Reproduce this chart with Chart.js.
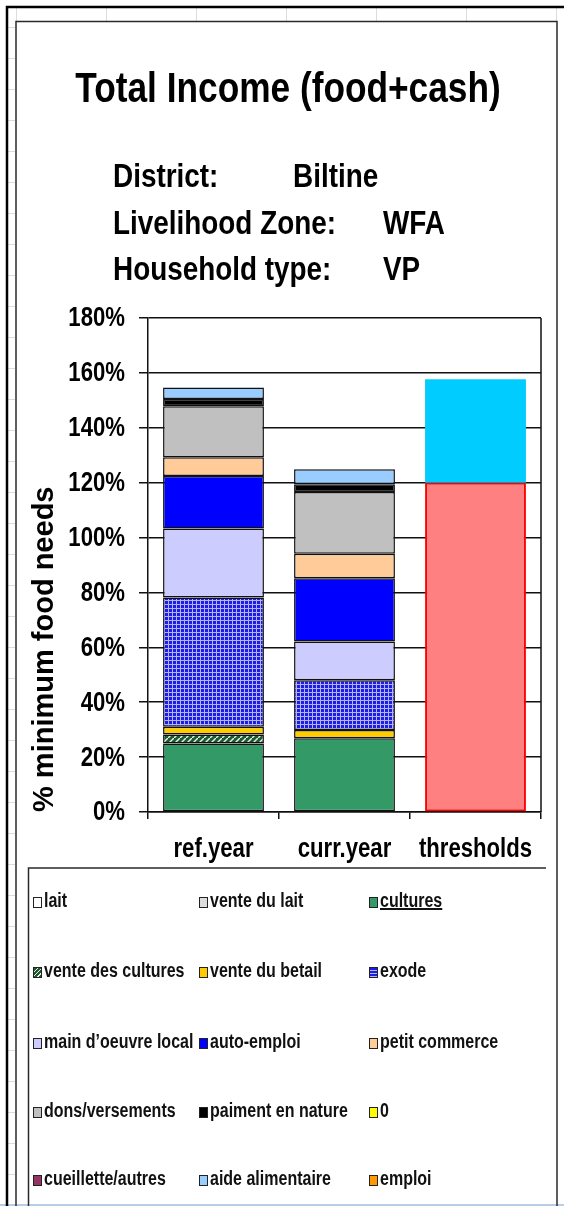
<!DOCTYPE html>
<html>
<head>
<meta charset="utf-8">
<title>Total Income (food+cash)</title>
<script src="https://cdn.jsdelivr.net/npm/chart.js@4.4.0/dist/chart.umd.min.js"></script>
<style>
  body { margin: 0; background: #fff; }
  #wrap { position: relative; width: 564px; height: 1206px; overflow: hidden; }
  #chartBox { position: absolute; left: 0; top: 0; width: 564px; height: 1206px; }
  #legend { position: absolute; left: 0; top: 0; width: 564px; height: 1206px; pointer-events: none; }
  .item {
    position: absolute; white-space: nowrap; color: #111;
    font: bold 20px "Liberation Sans", Arial, sans-serif;
    line-height: 20px; height: 20px;
  }
  .mark {
    display: inline-block; width: 7px; height: 9px; border: 1px solid #222;
    vertical-align: -1px; margin-right: 2px;
  }
  .txt { display: inline-block; transform: scaleX(0.8); transform-origin: 0 50%; }
</style>
</head>
<body>
<div id="wrap">
  <div id="chartBox"><canvas id="incomeChart"></canvas></div>
  <div id="legend"></div>
</div>
<script>
const SANS = '"Liberation Sans", Arial, sans-serif';
const SQUEEZE = 0.82; // Arial Narrow look from Liberation Sans

// chart data
const categories = ["ref.year", "curr.year", "thresholds"];
const sources = [
  "lait", "vente du lait", "cultures",
  "vente des cultures", "vente du betail", "exode",
  "main d\u2019oeuvre local", "auto-emploi", "petit commerce",
  "dons/versements", "paiment en nature", "0",
  "cueillette/autres", "aide alimentaire", "emploi"
];
const refYear  = [0, 0, 25.0, 3.2, 2.9, 47.1, 25.1, 19.1, 6.9, 18.5, 2.7, 0, 0, 4.2, 0];
const currYear = [0, 0, 26.9, 0.0, 3.0, 18.1, 14.1, 23.1, 8.9, 22.5, 2.8, 0, 0, 5.5, 0];
const thresholdNames = ["survival", "livelihood protection"];
const thresholdValues = [120, 37.7];
const yMin = 0, yMax = 180, yStep = 20;

const titleText = "Total Income (food+cash)";
const infoLabels = ["District:", "Livelihood Zone:", "Household type:"];
const infoValues = ["Biltine", "WFA", "VP"];

// colours (Excel palette)
const sourceColors = [
  "#FFFFFF", "#DDDDDD", "#339966",
  "hatchGreen", "#FFCC00", "gridBlue",
  "#CCCCFF", "#0000FF", "#FFCC99",
  "#C0C0C0", "#000000", "#FFFF00",
  "#993366", "#99CCFF", "#FF9900"
];
const thresholdColors = ["#FF8080", "#00CCFF"];
const thresholdBorders = ["#FF0000", "#00CCFF"];

function makePattern(kind) {
  const c = document.createElement("canvas");
  const g = c.getContext("2d");
  if (kind === "gridBlue") {
    c.width = 4; c.height = 4;
    g.fillStyle = "#1c1ce4";
    g.fillRect(0, 0, 4, 4);
    g.fillStyle = "#b4b4fa";
    g.fillRect(0, 0, 4, 1);
    g.fillRect(0, 0, 1, 4);
  } else {
    c.width = 6; c.height = 6;
    g.fillStyle = "#1d5a30";
    g.fillRect(0, 0, 6, 6);
    g.strokeStyle = "#e8f0e8";
    g.lineWidth = 1.5;
    g.beginPath();
    g.moveTo(0, 6); g.lineTo(6, 0);
    g.stroke();
  }
  return g.createPattern(c, "repeat");
}

function fillFor(color) {
  if (color === "gridBlue" || color === "hatchGreen") return makePattern(color);
  return color;
}

function narrowText(ctx, text, x, y, size, align, baseline) {
  ctx.save();
  ctx.font = "bold " + size + "px " + SANS;
  ctx.textAlign = align;
  ctx.textBaseline = baseline;
  ctx.translate(x, y);
  ctx.scale(SQUEEZE, 1);
  ctx.fillText(text, 0, 0);
  ctx.restore();
}

const datasets = sources.map((name, i) => ({
  label: name,
  data: [refYear[i] || null, currYear[i] || null, null],
  backgroundColor: fillFor(sourceColors[i]),
  borderColor: "#111",
  borderWidth: 1.5,
  borderSkipped: false
}));
thresholdNames.forEach((name, i) => {
  datasets.push({
    label: name,
    data: [null, null, thresholdValues[i]],
    backgroundColor: thresholdColors[i],
    borderColor: thresholdBorders[i],
    borderWidth: i === 0 ? 2 : 0,
    borderSkipped: false
  });
});

// sheet background, header text, tick labels and plot frame
const sheetPlugin = {
  id: "sheet",
  beforeDraw(chart) {
    const ctx = chart.ctx;
    ctx.save();
    // faint spreadsheet grid in the margins
    ctx.strokeStyle = "#d6dde8";
    ctx.lineWidth = 1;
    for (let x = 16; x < 564; x += 90) {
      ctx.beginPath(); ctx.moveTo(x + 0.5, 8); ctx.lineTo(x + 0.5, 21); ctx.stroke();
    }
    for (let y = 27; y < 1206; y += 31) {
      ctx.beginPath(); ctx.moveTo(8, y + 0.5); ctx.lineTo(15, y + 0.5); ctx.stroke();
    }
    ctx.strokeStyle = "#b8cde6";
    ctx.lineWidth = 2;
    ctx.beginPath(); ctx.moveTo(0, 1205); ctx.lineTo(564, 1205); ctx.stroke();
    // thick outer line
    ctx.strokeStyle = "#000";
    ctx.lineWidth = 2.5;
    ctx.beginPath();
    ctx.moveTo(7, 1206); ctx.lineTo(7, 7); ctx.lineTo(564, 7);
    ctx.stroke();
    // chart frame
    ctx.strokeStyle = "#2a2a2a";
    ctx.lineWidth = 1.5;
    ctx.beginPath();
    ctx.moveTo(16, 1206); ctx.lineTo(16, 21.5); ctx.lineTo(557, 21.5); ctx.lineTo(557, 1206);
    ctx.stroke();
    // legend box
    ctx.beginPath();
    ctx.moveTo(28.5, 1206); ctx.lineTo(28.5, 868); ctx.lineTo(546, 868);
    ctx.stroke();
    ctx.restore();

    // title + info block
    ctx.fillStyle = "#000";
    narrowText(ctx, titleText, 288, 102, 43, "center", "alphabetic");
    const valueX = [293, 383, 383];
    infoLabels.forEach((lab, i) => {
      const y = 187 + i * 46.5;
      narrowText(ctx, lab, 113, y, 34, "left", "alphabetic");
      narrowText(ctx, infoValues[i], valueX[i], y, 34, "left", "alphabetic");
    });
  },
  afterDraw(chart) {
    const a = chart.chartArea;
    const ctx = chart.ctx;
    ctx.save();
    ctx.strokeStyle = "#111";
    ctx.lineWidth = 1.5;
    ctx.beginPath();
    ctx.moveTo(a.right, a.top); ctx.lineTo(a.right, a.bottom);
    ctx.stroke();
    ctx.fillStyle = "#000";
    // y tick labels from the library's scale
    const ys = chart.scales.y;
    ys.ticks.forEach((t) => {
      narrowText(ctx, t.value + "%", 125, ys.getPixelForValue(t.value) + 1, 27, "right", "middle");
    });
    // category labels
    const xs = chart.scales.x;
    chart.data.labels.forEach((lab, i) => {
      narrowText(ctx, lab, xs.getPixelForTick(i), 857, 27, "center", "alphabetic");
    });
    ctx.restore();
  }
};

const chart = new Chart(document.getElementById("incomeChart"), {
  type: "bar",
  data: { labels: categories, datasets: datasets },
  options: {
    responsive: true,
    maintainAspectRatio: false,
    animation: false,
    categoryPercentage: 1,
    barPercentage: 0.77,
    layout: { padding: { left: 16, top: 318, right: 23, bottom: 334 } },
    plugins: {
      legend: { display: false },
      tooltip: { enabled: false }
    },
    scales: {
      x: {
        stacked: true,
        afterFit: (s) => { s.height = 60; },
        border: { color: "#111", width: 1.5 },
        grid: { drawOnChartArea: false, color: "#111", lineWidth: 1.5, tickLength: 7 },
        ticks: { display: false }
      },
      y: {
        stacked: true,
        min: yMin,
        max: yMax,
        afterFit: (s) => { s.width = 132; },
        border: { color: "#111", width: 1.5 },
        grid: { color: "#111", lineWidth: 1.5, tickLength: 9 },
        ticks: { stepSize: yStep, display: false },
        title: {
          display: true,
          text: "% minimum food needs",
          align: "start",
          color: "#000",
          padding: { top: 12, bottom: 0 },
          font: { family: SANS, size: 29, weight: "bold", lineHeight: 1.2 }
        }
      }
    }
  },
  plugins: [sheetPlugin]
});

// legend: 3 columns x 5 rows, same order as the stack
const legend = document.getElementById("legend");
const colX = [33, 199, 369];
const rowY = [900, 970, 1041, 1110, 1178];
sources.forEach((name, i) => {
  const item = document.createElement("div");
  item.className = "item";
  item.style.left = colX[i % 3] + "px";
  item.style.top = (rowY[Math.floor(i / 3)] - 10) + "px";
  const mark = document.createElement("span");
  mark.className = "mark";
  const c = sourceColors[i];
  if (c === "gridBlue") {
    mark.style.background = "repeating-linear-gradient(0deg,#b4b4fa 0 1px,#1c1ce4 1px 3px),#1c1ce4";
  } else if (c === "hatchGreen") {
    mark.style.background = "repeating-linear-gradient(-45deg,#1d5a30 0 2px,#e8f0e8 2px 3px)";
  } else {
    mark.style.background = c;
  }
  const txt = document.createElement("span");
  txt.className = "txt";
  txt.textContent = name;
  if (name === "cultures") txt.style.textDecoration = "underline";
  item.appendChild(mark);
  item.appendChild(txt);
  legend.appendChild(item);
});
</script>
</body>
</html>
